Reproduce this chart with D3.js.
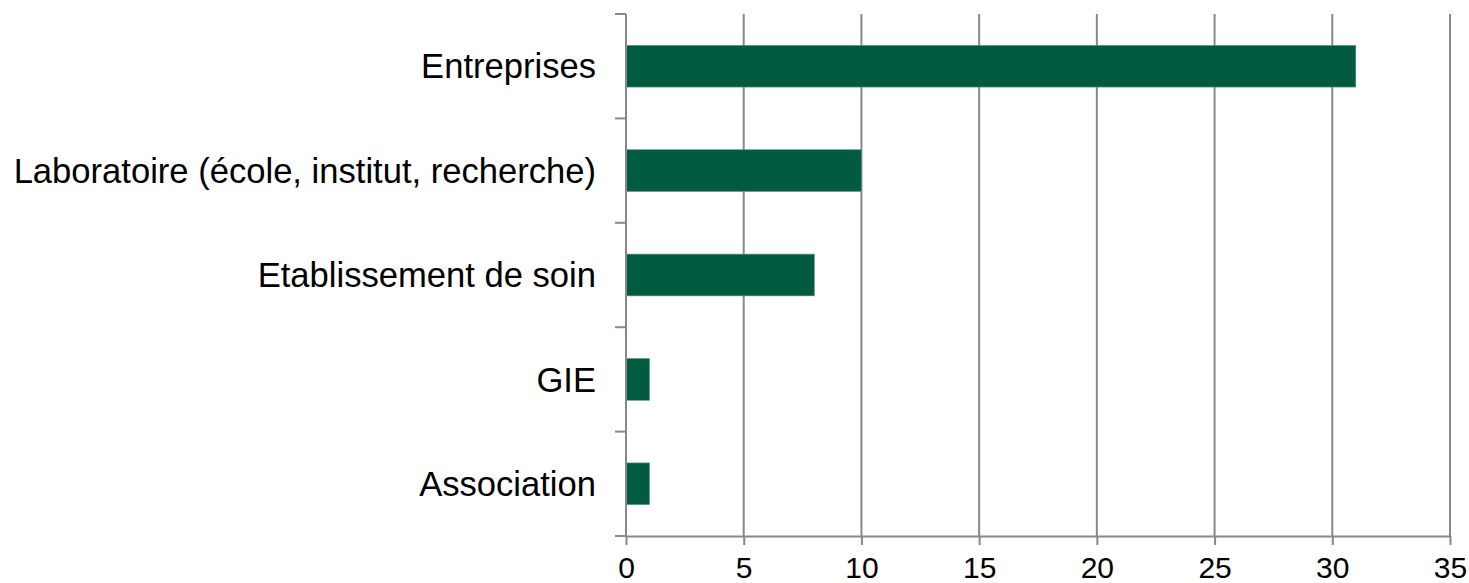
<!DOCTYPE html>
<html><head><meta charset="utf-8">
<script src="https://cdn.jsdelivr.net/npm/d3@7"></script>
<style>body{margin:0;background:#fff}svg{display:block}text{font-family:"Liberation Sans",Arial,sans-serif;fill:#000}</style>
</head><body>
<svg id="c" width="1469" height="583"></svg>
<script>
const categories = ["Entreprises","Laboratoire (école, institut, recherche)","Etablissement de soin","GIE","Association"];
const values = [31,10,8,1,1];
const xTicks = [0,5,10,15,20,25,30,35];

const svg = d3.select("#c");
const pLeft = 626, pRight = 1450, pTop = 14, pBottom = 536;
const x = d3.scaleLinear().domain([0,35]).range([pLeft,pRight]);
const y = d3.scaleBand().domain(categories).range([pTop,pBottom]).paddingInner(0.6).paddingOuter(0.3);
const grid = "#888888";

// gridlines
svg.append("g").selectAll("line").data(xTicks.slice(1)).join("line")
  .attr("x1",d=>x(d)).attr("x2",d=>x(d)).attr("y1",pTop).attr("y2",pBottom)
  .attr("stroke",grid).attr("stroke-width",2);

// bars
svg.append("g").selectAll("rect").data(values).join("rect")
  .attr("x",x(0)).attr("y",(d,i)=>y(categories[i]))
  .attr("width",d=>x(d)-x(0)).attr("height",y.bandwidth())
  .attr("fill","#025a40").attr("stroke","#5f9a86").attr("stroke-width",0.6);

// x axis
const xa = svg.append("g").attr("transform",`translate(0,${pBottom})`)
  .call(d3.axisBottom(x).tickValues(xTicks).tickSize(9).tickSizeOuter(0).tickPadding(12));
xa.select(".domain").attr("stroke",grid).attr("stroke-width",2);
xa.selectAll(".tick line").attr("stroke",grid).attr("stroke-width",2);
xa.selectAll(".tick text").attr("font-size",30).attr("fill","#000").attr("font-family","Liberation Sans, Arial, sans-serif");

// y axis: band boundary ticks
const yb = svg.append("g");
const bounds = categories.map(c=>y(c)-y.step()*y.paddingOuter()).concat([pBottom]);
yb.append("line").attr("x1",pLeft).attr("x2",pLeft).attr("y1",pTop).attr("y2",pBottom).attr("stroke",grid).attr("stroke-width",2);
yb.selectAll("line.t").data(bounds).join("line").attr("class","t")
  .attr("x1",pLeft-11).attr("x2",pLeft).attr("y1",d=>d).attr("y2",d=>d)
  .attr("stroke",grid).attr("stroke-width",2);
yb.selectAll("text").data(categories).join("text")
  .attr("x",pLeft-30).attr("y",d=>y(d)+y.bandwidth()/2).attr("dy","0.35em")
  .attr("text-anchor","end").attr("font-size",34.6).text(d=>d);
</script>
</body></html>
